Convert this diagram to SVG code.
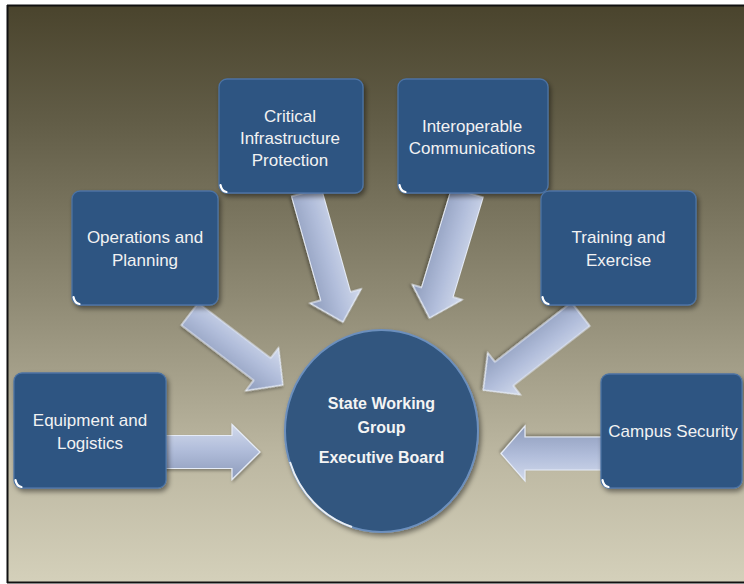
<svg xmlns="http://www.w3.org/2000/svg" width="744" height="584" viewBox="0 0 744 584">
<defs>
<linearGradient id="bg" x1="0" y1="0" x2="0" y2="1">
<stop offset="0" stop-color="#4a442d"/>
<stop offset="0.2" stop-color="#625d47"/>
<stop offset="0.5" stop-color="#8e8973"/>
<stop offset="0.78" stop-color="#bcb7a1"/>
<stop offset="1" stop-color="#d4d0ba"/>
</linearGradient>
<linearGradient id="ag" x1="0" y1="0" x2="0" y2="1">
<stop offset="0" stop-color="#d2daec"/>
<stop offset="0.45" stop-color="#b2bedb"/>
<stop offset="1" stop-color="#8d9bbb"/>
</linearGradient>
<filter id="sh" x="-20%" y="-20%" width="140%" height="140%">
<feDropShadow dx="2" dy="3" stdDeviation="2.5" flood-color="#000" flood-opacity="0.45"/>
</filter>
<filter id="ash" x="-20%" y="-20%" width="140%" height="140%">
<feDropShadow dx="1" dy="2" stdDeviation="1.5" flood-color="#000" flood-opacity="0.3"/>
</filter>
</defs>
<style>
.box{fill:#2e5482;stroke:#4c73a4;stroke-width:1.3;filter:url(#sh)}
.hub{fill:#30567f;stroke:#6c8fbd;stroke-width:2;filter:url(#sh)}
.glint{fill:none;stroke:#ffffff;stroke-width:2.2;stroke-linecap:round}
.lbl{font-family:"Liberation Sans",Arial,sans-serif;font-size:17px;fill:#f2f2f2;text-anchor:middle}
.hubt{font-family:"Liberation Sans",Arial,sans-serif;font-size:16px;font-weight:bold;fill:#f4f4f4;text-anchor:middle}
.arr{fill:url(#ag);stroke:#e6ecf7;stroke-width:1.2;stroke-linejoin:miter;filter:url(#ash)}
</style>
<rect x="0" y="0" width="744" height="584" fill="#ffffff"/>
<rect x="8" y="6" width="736" height="576" fill="url(#bg)"/>
<line x1="7" y1="5.5" x2="744" y2="5.5" stroke="#111" stroke-width="2"/>
<line x1="7.5" y1="5" x2="7.5" y2="583" stroke="#111" stroke-width="2"/>
<line x1="7" y1="582.5" x2="744" y2="582.5" stroke="#111" stroke-width="2"/>

<g id="connectors">
<polygon class="arr" transform="translate(307.5,196) rotate(74.3)" points="-4,-15.5 104,-15.5 104,-26.5 131,0 104,26.5 104,15.5 -4,15.5"/>
<polygon class="arr" transform="translate(193,316.5) rotate(37.3)" points="-4,-14 87,-14 87,-27 113,0 87,27 87,14 -4,14"/>
<polygon class="arr" transform="translate(466.5,195.5) rotate(106.8)" points="-3,-16.5 101,-16.5 101,-26 128,0 101,26 101,16.5 -3,16.5"/>
<polygon class="arr" transform="translate(577.5,316.7) rotate(142.1)" points="-4,-15 93,-15 93,-26.5 119.5,0 93,26.5 93,15 -4,15"/>
<polygon class="arr" transform="translate(160,452)" points="0,-16.5 72,-16.5 72,-27.5 100,0 72,27.5 72,16.5 0,16.5"/>
<polygon class="arr" transform="translate(606,453.5) rotate(180)" points="0,-16.5 81,-16.5 81,-27.5 105,0 81,27.5 81,16.5 0,16.5"/>
</g>

<g id="node-ops">
<rect class="box" x="72" y="191" width="146" height="114" rx="8"/>
<path class="glint" d="M73.5,297 q1,6 6,7"/>
<text class="lbl" x="145" y="243">Operations and</text>
<text class="lbl" x="145" y="266">Planning</text>
</g>
<g id="node-cip">
<rect class="box" x="219" y="79" width="144" height="114" rx="8"/>
<path class="glint" d="M220.5,185 q1,6 6,7"/>
<text class="lbl" x="290" y="122">Critical</text>
<text class="lbl" x="290" y="144">Infrastructure</text>
<text class="lbl" x="290" y="166">Protection</text>
</g>
<g id="node-ic">
<rect class="box" x="398" y="79" width="150" height="114" rx="8"/>
<path class="glint" d="M399.5,185 q1,6 6,7"/>
<text class="lbl" x="472" y="132">Interoperable</text>
<text class="lbl" x="472" y="154">Communications</text>
</g>
<g id="node-te">
<rect class="box" x="541" y="191" width="155" height="114" rx="8"/>
<path class="glint" d="M542.5,297 q1,6 6,7"/>
<text class="lbl" x="618.5" y="243">Training and</text>
<text class="lbl" x="618.5" y="266">Exercise</text>
</g>
<g id="node-el">
<rect class="box" x="14" y="373" width="152" height="115" rx="8"/>
<path class="glint" d="M15.5,480 q1,6 6,7"/>
<text class="lbl" x="90" y="426">Equipment and</text>
<text class="lbl" x="90" y="449">Logistics</text>
</g>
<g id="node-cs">
<rect class="box" x="601" y="374" width="141" height="114" rx="8"/>
<path class="glint" d="M602.5,480 q1,6 6,7"/>
<text class="lbl" x="673" y="437">Campus Security</text>
</g>
<g id="node-hub">
<ellipse class="hub" cx="381.5" cy="431" rx="96.5" ry="101"/>
<path d="M290,462 A96.5,101 0 0 0 352,527" fill="none" stroke="#ffffff" stroke-width="2" stroke-opacity="0.85"/>
<text class="hubt" x="381.5" y="409">State Working</text>
<text class="hubt" x="381.5" y="432.5">Group</text>
<text class="hubt" x="381.5" y="462.5">Executive Board</text>
</g>
</svg>
